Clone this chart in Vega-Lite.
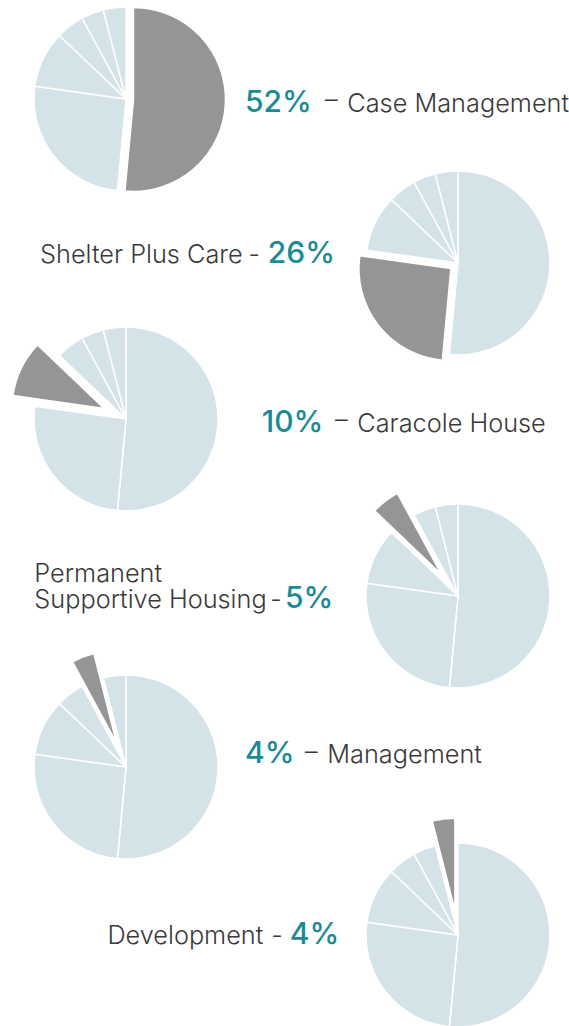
{
  "$schema": "https://vega.github.io/schema/vega-lite/v6.json",
  "padding": 0,
  "background": "white",
  "config": {"view": {"stroke": null}},
  "datasets": {
    "budget": [
      {"order": 1, "program": "Case Management", "share": 0.52},
      {"order": 2, "program": "Shelter Plus Care", "share": 0.26},
      {"order": 3, "program": "Caracole House", "share": 0.10},
      {"order": 4, "program": "Permanent\nSupportive Housing", "share": 0.05},
      {"order": 5, "program": "Management", "share": 0.04},
      {"order": 6, "program": "Development", "share": 0.04}
    ]
  },
  "columns": 2,
  "align": "none",
  "bounds": "flush",
  "spacing": 0,
  "concat": [
    {
      "width": 252, "height": 198, "data": {"name": "budget"},
      "transform": [{"stack": "share", "groupby": [], "sort": [{"field": "order", "order": "ascending"}], "offset": "normalize", "as": ["t0", "t1"]}],
      "encoding": {"theta": {"field": "t0", "type": "quantitative", "stack": null, "scale": {"domain": [0, 1]}}, "theta2": {"field": "t1"}},
      "layer": [
        {"transform": [{"filter": "datum.order != 1"}], "mark": {"type": "arc", "radius": 92, "fill": "#d4e3e8", "stroke": "#ffffff", "strokeWidth": 1.5}},
        {"transform": [{"filter": "datum.order == 1"}], "mark": {"type": "arc", "radius": 92, "fill": "#959597", "stroke": "#ffffff", "strokeWidth": 1.5, "xOffset": 7.5, "yOffset": 0.4}}
      ]
    },
    {
      "width": 222, "height": 198, "data": {"name": "budget"},
      "transform": [{"filter": "datum.order == 1"}],
      "layer": [
        {"mark": {"type": "text", "align": "left", "baseline": "alphabetic", "dx": -213, "dy": 12.7, "font": "Inter", "fontSize": 30, "fontWeight": 500, "color": "#1a8a94"}, "encoding": {"text": {"field": "share", "type": "quantitative", "format": ".0%"}}},
        {"mark": {"type": "text", "align": "left", "baseline": "alphabetic", "dx": -133, "dy": 9, "font": "Inter", "fontSize": 25.3, "fontWeight": 300, "color": "#3a3a3a"}, "encoding": {"text": {"value": "–"}}},
        {"mark": {"type": "text", "align": "left", "baseline": "alphabetic", "dx": -110.7, "dy": 12.7, "font": "Inter", "fontSize": 25.3, "fontWeight": 300, "color": "#3a3a3a"}, "encoding": {"text": {"field": "program"}}}
      ]
    },
    {
      "width": 347, "height": 130, "data": {"name": "budget"},
      "transform": [{"filter": "datum.order == 2"}],
      "layer": [
        {"mark": {"type": "text", "align": "right", "baseline": "alphabetic", "dx": 161.5, "dy": -0.5, "font": "Inter", "fontSize": 30, "fontWeight": 500, "color": "#1a8a94"}, "encoding": {"text": {"field": "share", "type": "quantitative", "format": ".0%"}}},
        {"mark": {"type": "text", "align": "right", "baseline": "alphabetic", "dx": 86.5, "dy": -0.5, "font": "Inter", "fontSize": 25.3, "fontWeight": 300, "color": "#3a3a3a"}, "encoding": {"text": {"value": "-"}}},
        {"mark": {"type": "text", "align": "right", "baseline": "alphabetic", "dx": 69.2, "dy": -0.5, "font": "Inter", "fontSize": 25.3, "fontWeight": 300, "color": "#3a3a3a"}, "encoding": {"text": {"field": "program"}}}
      ]
    },
    {
      "width": 222, "height": 130, "data": {"name": "budget"},
      "transform": [{"stack": "share", "groupby": [], "sort": [{"field": "order", "order": "ascending"}], "offset": "normalize", "as": ["t0", "t1"]}],
      "encoding": {"theta": {"field": "t0", "type": "quantitative", "stack": null, "scale": {"domain": [0, 1]}}, "theta2": {"field": "t1"}},
      "layer": [
        {"transform": [{"filter": "datum.order != 2"}], "mark": {"type": "arc", "radius": 92, "fill": "#d4e3e8", "stroke": "#ffffff", "strokeWidth": 1.5}},
        {"transform": [{"filter": "datum.order == 2"}], "mark": {"type": "arc", "radius": 92, "fill": "#959597", "stroke": "#ffffff", "strokeWidth": 1.5, "xOffset": -7.1, "yOffset": 5.6}}
      ]
    },
    {
      "width": 252, "height": 182, "data": {"name": "budget"},
      "transform": [{"stack": "share", "groupby": [], "sort": [{"field": "order", "order": "ascending"}], "offset": "normalize", "as": ["t0", "t1"]}],
      "encoding": {"theta": {"field": "t0", "type": "quantitative", "stack": null, "scale": {"domain": [0, 1]}}, "theta2": {"field": "t1"}},
      "layer": [
        {"transform": [{"filter": "datum.order != 3"}], "mark": {"type": "arc", "radius": 92, "fill": "#d4e3e8", "stroke": "#ffffff", "strokeWidth": 1.5}},
        {"transform": [{"filter": "datum.order == 3"}], "mark": {"type": "arc", "radius": 92, "fill": "#959597", "stroke": "#ffffff", "strokeWidth": 1.5, "xOffset": -21.9, "yOffset": -10.6}}
      ]
    },
    {
      "width": 222, "height": 182, "data": {"name": "budget"},
      "transform": [{"filter": "datum.order == 3"}],
      "layer": [
        {"mark": {"type": "text", "align": "left", "baseline": "alphabetic", "dx": -196.3, "dy": 12.7, "font": "Inter", "fontSize": 30, "fontWeight": 500, "color": "#1a8a94"}, "encoding": {"text": {"field": "share", "type": "quantitative", "format": ".0%"}}},
        {"mark": {"type": "text", "align": "left", "baseline": "alphabetic", "dx": -123, "dy": 9, "font": "Inter", "fontSize": 25.3, "fontWeight": 300, "color": "#3a3a3a"}, "encoding": {"text": {"value": "–"}}},
        {"mark": {"type": "text", "align": "left", "baseline": "alphabetic", "dx": -100.7, "dy": 12.7, "font": "Inter", "fontSize": 25.3, "fontWeight": 300, "color": "#3a3a3a"}, "encoding": {"text": {"field": "program"}}}
      ]
    },
    {
      "width": 347, "height": 172, "data": {"name": "budget"},
      "transform": [{"filter": "datum.order == 4"}],
      "layer": [
        {"mark": {"type": "text", "align": "right", "baseline": "alphabetic", "dx": 159.8, "dy": 12.3, "font": "Inter", "fontSize": 30, "fontWeight": 500, "color": "#1a8a94"}, "encoding": {"text": {"field": "share", "type": "quantitative", "format": ".0%"}}},
        {"mark": {"type": "text", "align": "right", "baseline": "alphabetic", "dx": 108.2, "dy": 12.3, "font": "Inter", "fontSize": 25.3, "fontWeight": 300, "color": "#3a3a3a"}, "encoding": {"text": {"value": "-"}}},
        {"mark": {"type": "text", "align": "left", "baseline": "alphabetic", "dx": -139.2, "dy": -14.3, "lineBreak": "\n", "lineHeight": 26.6, "font": "Inter", "fontSize": 25.3, "fontWeight": 300, "color": "#3a3a3a"}, "encoding": {"text": {"field": "program"}}}
      ]
    },
    {
      "width": 222, "height": 172, "data": {"name": "budget"},
      "transform": [{"stack": "share", "groupby": [], "sort": [{"field": "order", "order": "ascending"}], "offset": "normalize", "as": ["t0", "t1"]}],
      "encoding": {"theta": {"field": "t0", "type": "quantitative", "stack": null, "scale": {"domain": [0, 1]}}, "theta2": {"field": "t1"}},
      "layer": [
        {"transform": [{"filter": "datum.order != 4"}], "mark": {"type": "arc", "radius": 92, "fill": "#d4e3e8", "stroke": "#ffffff", "strokeWidth": 1.5}},
        {"transform": [{"filter": "datum.order == 4"}], "mark": {"type": "arc", "radius": 92, "fill": "#959597", "stroke": "#ffffff", "strokeWidth": 1.5, "xOffset": -16.7, "yOffset": -21.8}}
      ]
    },
    {
      "width": 252, "height": 170, "data": {"name": "budget"},
      "transform": [{"stack": "share", "groupby": [], "sort": [{"field": "order", "order": "ascending"}], "offset": "normalize", "as": ["t0", "t1"]}],
      "encoding": {"theta": {"field": "t0", "type": "quantitative", "stack": null, "scale": {"domain": [0, 1]}}, "theta2": {"field": "t1"}},
      "layer": [
        {"transform": [{"filter": "datum.order != 5"}], "mark": {"type": "arc", "radius": 92, "fill": "#d4e3e8", "stroke": "#ffffff", "strokeWidth": 1.5}},
        {"transform": [{"filter": "datum.order == 5"}], "mark": {"type": "arc", "radius": 92, "fill": "#959597", "stroke": "#ffffff", "strokeWidth": 1.5, "xOffset": -9.5, "yOffset": -24.2}}
      ]
    },
    {
      "width": 222, "height": 170, "data": {"name": "budget"},
      "transform": [{"filter": "datum.order == 5"}],
      "layer": [
        {"mark": {"type": "text", "align": "left", "baseline": "alphabetic", "dx": -213, "dy": -3.7, "font": "Inter", "fontSize": 30, "fontWeight": 500, "color": "#1a8a94"}, "encoding": {"text": {"field": "share", "type": "quantitative", "format": ".0%"}}},
        {"mark": {"type": "text", "align": "left", "baseline": "alphabetic", "dx": -153, "dy": -7.4, "font": "Inter", "fontSize": 25.3, "fontWeight": 300, "color": "#3a3a3a"}, "encoding": {"text": {"value": "–"}}},
        {"mark": {"type": "text", "align": "left", "baseline": "alphabetic", "dx": -130.7, "dy": -3.7, "font": "Inter", "fontSize": 25.3, "fontWeight": 300, "color": "#3a3a3a"}, "encoding": {"text": {"field": "program"}}}
      ]
    },
    {
      "width": 347, "height": 166, "data": {"name": "budget"},
      "transform": [{"filter": "datum.order == 6"}],
      "layer": [
        {"mark": {"type": "text", "align": "right", "baseline": "alphabetic", "dx": 165.8, "dy": 9, "font": "Inter", "fontSize": 30, "fontWeight": 500, "color": "#1a8a94"}, "encoding": {"text": {"field": "share", "type": "quantitative", "format": ".0%"}}},
        {"mark": {"type": "text", "align": "right", "baseline": "alphabetic", "dx": 109.2, "dy": 9, "font": "Inter", "fontSize": 25.3, "fontWeight": 300, "color": "#3a3a3a"}, "encoding": {"text": {"value": "-"}}},
        {"mark": {"type": "text", "align": "right", "baseline": "alphabetic", "dx": 89.8, "dy": 9, "font": "Inter", "fontSize": 25.3, "fontWeight": 300, "color": "#3a3a3a"}, "encoding": {"text": {"field": "program"}}}
      ]
    },
    {
      "width": 222, "height": 166, "data": {"name": "budget"},
      "transform": [{"stack": "share", "groupby": [], "sort": [{"field": "order", "order": "ascending"}], "offset": "normalize", "as": ["t0", "t1"]}],
      "encoding": {"theta": {"field": "t0", "type": "quantitative", "stack": null, "scale": {"domain": [0, 1]}}, "theta2": {"field": "t1"}},
      "layer": [
        {"transform": [{"filter": "datum.order != 6"}], "mark": {"type": "arc", "radius": 92, "fill": "#d4e3e8", "stroke": "#ffffff", "strokeWidth": 1.5}},
        {"transform": [{"filter": "datum.order == 6"}], "mark": {"type": "arc", "radius": 92, "fill": "#959597", "stroke": "#ffffff", "strokeWidth": 1.5, "xOffset": -3.1, "yOffset": -24.8}}
      ]
    }
  ]
}
